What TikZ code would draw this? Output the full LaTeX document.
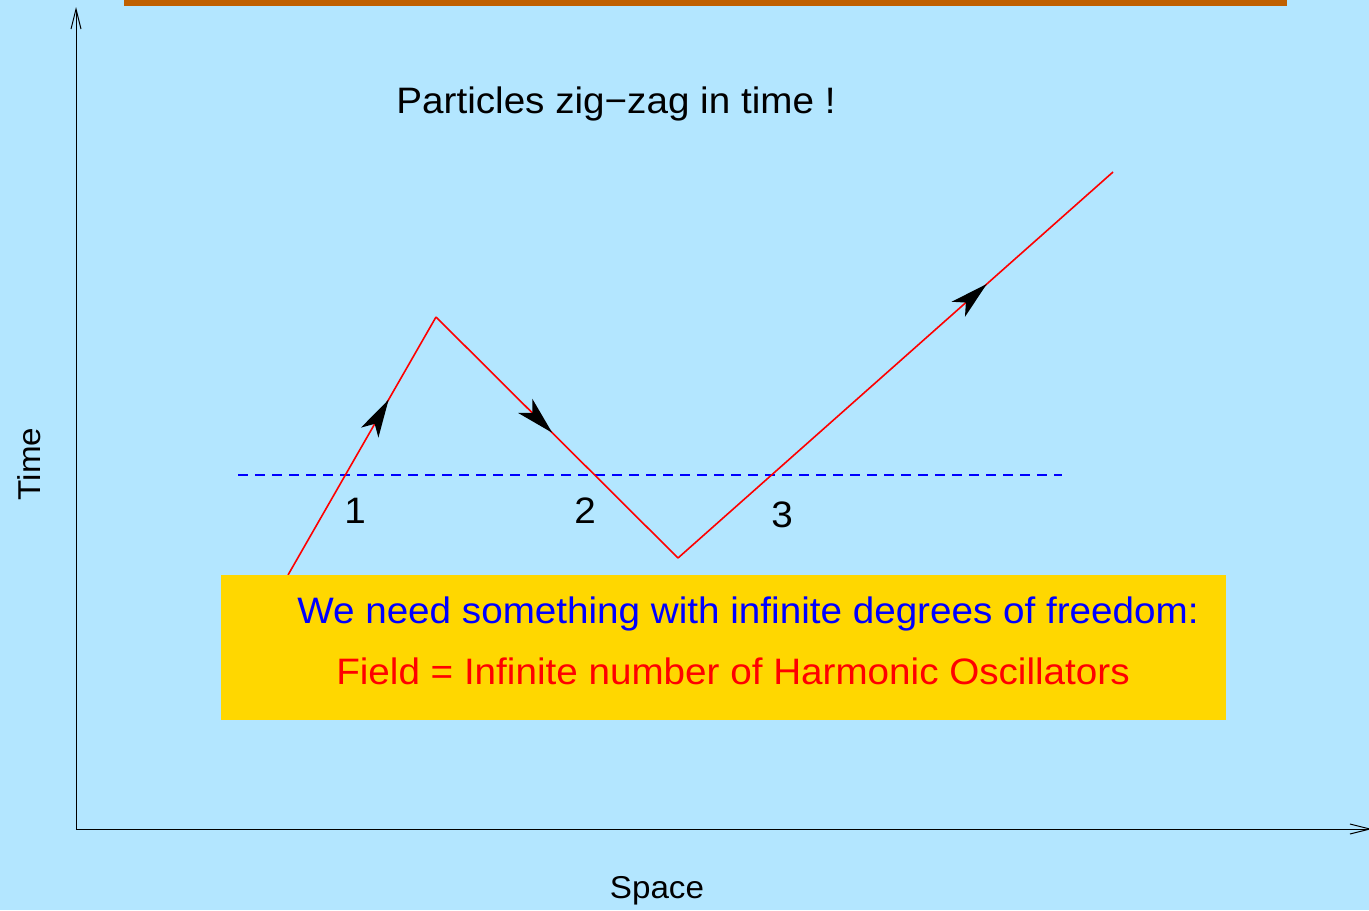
\documentclass[tikz,border=0pt]{standalone}
\usepackage{fontspec}
\setmainfont{Liberation Sans}[FakeStretch=1.05]
\usetikzlibrary{arrows.meta,decorations.markings}
\definecolor{slideblue}{RGB}{179,230,255}
\definecolor{barorange}{RGB}{192,96,0}
\definecolor{boxyellow}{RGB}{255,215,0}

\begin{document}
\begin{tikzpicture}[
    x=0.5pt, y=-0.5pt,
    axis/.style={-{Straight Barb[length=10pt,width=5pt]}, line width=0.5pt},
    big/.style={font=\fontsize{18.4}{22}\selectfont, inner sep=0pt},
    small/.style={font=\fontsize{15.8}{19}\selectfont, inner sep=0pt},
    worldline/.style={red, line width=0.8pt},
    flow/.style={postaction={decorate}, decoration={markings,
      mark=at position #1 with {\arrow{Stealth[length=19pt,width=10pt,inset=5pt,color=black]}}}}
  ]
    \useasboundingbox (0,0) rectangle (1369,910);
    \fill[slideblue] (0,0) rectangle (1369,910);
    \fill[barorange] (124,0) rectangle (1287,6);

    % axes
    \coordinate (origin) at (76,829);
    \coordinate (ytip) at (76,7);
    \coordinate (xtip) at (1372,829);
    \draw[axis] (origin) -- (ytip);
    \draw[axis] (origin) -- (xtip);

    % equal-time slice
    \coordinate (sliceL) at (238,475);
    \coordinate (sliceR) at (1062,475);
    \draw[blue, line width=0.6pt, dash pattern=on 5pt off 3.5pt] (sliceL) -- (sliceR);

    % zig-zag world line
    \coordinate (p0) at (288,575);
    \coordinate (p1) at (436,317);
    \coordinate (p2) at (678,558);
    \coordinate (p3) at (1113,172);
    \draw[worldline, flow=0.68] (p0) -- (p1);
    \draw[worldline, flow=0.48] (p1) -- (p2);
    \draw[worldline, flow=0.71] (p2) -- (p3);

    \node[big] (title) at (616,104) {Particles zig−zag in time !};
    \node[big] (cross1) at (355,511) {1};
    \node[big] (cross2) at (585,511) {2};
    \node[big] (cross3) at (782,515) {3};

    \node[fill=boxyellow, minimum width=502.5pt, minimum height=72.5pt, inner sep=0pt] (fieldbox) at (723.5,647.5) {};
    \node[big, text=blue] (needtxt) at (748,614) {We need something with infinite degrees of freedom:};
    \node[big, text=red] (fieldtxt) at (733,671) {Field = Infinite number of Harmonic Oscillators};

    \node[small, rotate=90] (timelbl) at (29,464) {Time};
    \node[small] (spacelbl) at (657,891) {Space};
  \end{tikzpicture}
\end{document}
